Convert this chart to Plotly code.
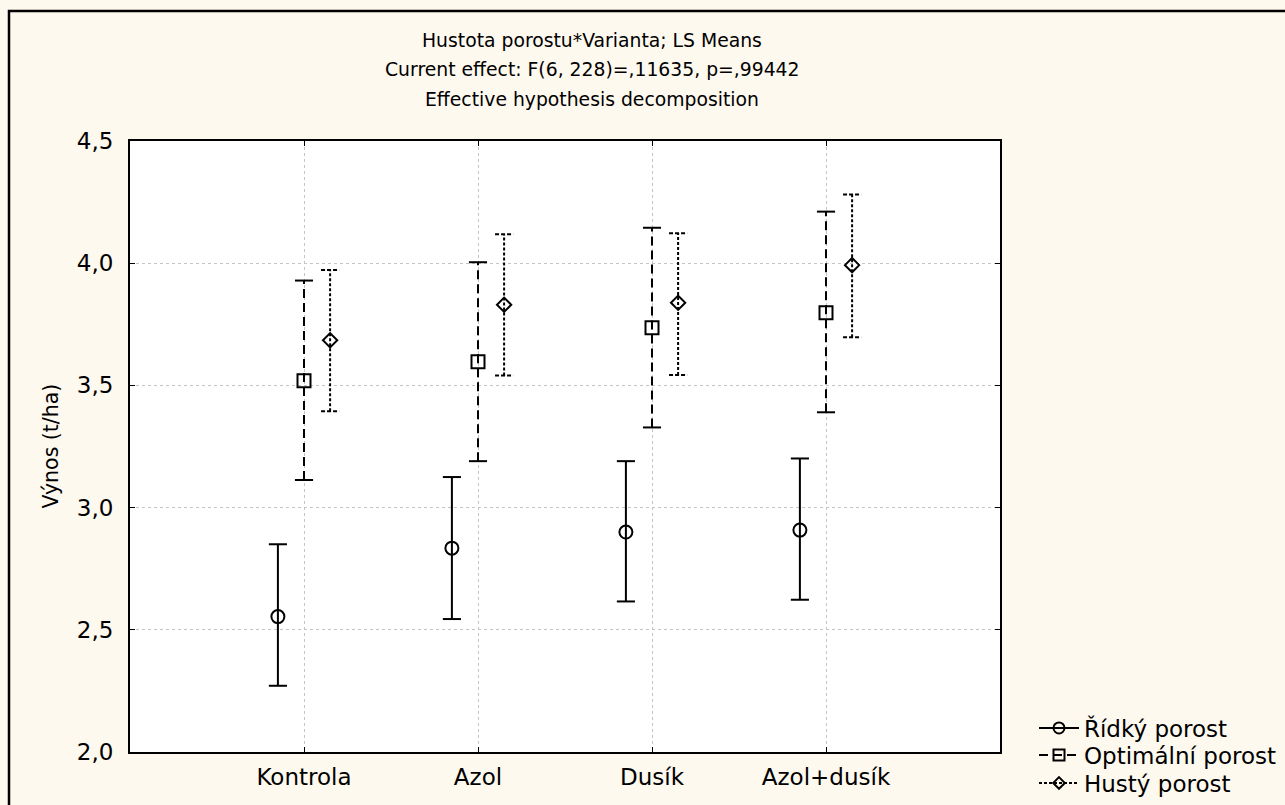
import plotly.graph_objects as go

# ---- data ----
categories = ["Kontrola", "Azol", "Dusík", "Azol+dusík"]
series_names = ["Řídký porost", "Optimální porost", "Hustý porost"]

ridky_mean = [2.554, 2.834, 2.900, 2.908]
ridky_lo = [2.271, 2.544, 2.616, 2.623]
ridky_hi = [2.850, 3.125, 3.190, 3.201]

opt_mean = [3.519, 3.597, 3.736, 3.797]
opt_lo = [3.113, 3.190, 3.328, 3.390]
opt_hi = [3.929, 4.004, 4.145, 4.211]

husty_mean = [3.685, 3.830, 3.838, 3.992]
husty_lo = [3.394, 3.541, 3.543, 3.697]
husty_hi = [3.972, 4.118, 4.123, 4.281]

y_ticks = [2.0, 2.5, 3.0, 3.5, 4.0, 4.5]
title_lines = [
    "Hustota porostu*Varianta; LS Means",
    "Current effect: F(6, 228)=,11635, p=,99442",
    "Effective hypothesis decomposition",
]

# ---- styling ----
FONT = "DejaVu Sans"
BG = "#FEF9EF"
W, H = 1285, 805
L, R, T, B = 130, 285, 141, 53
PW, PH = W - L - R, H - T - B

def px_to_paper_x(px):
    return (px - L) / PW

def px_to_paper_y(py):
    return (H - B - py) / PH

styles = [
    dict(offset=-0.15, dash="solid", cap_dash="solid", symbol="circle-open", size=13),
    dict(offset=0.0, dash="9px,5px", cap_dash="solid", symbol="square-open", size=13),
    dict(offset=0.15, dash="3px,2px", cap_dash="4px,2px", symbol="diamond-open", size=11),
]
legend_ids = ["legend", "legend2", "legend3"]
legend_centers_px = [728, 755, 783]
means = [ridky_mean, opt_mean, husty_mean]
los = [ridky_lo, opt_lo, husty_lo]
his = [ridky_hi, opt_hi, husty_hi]
cap_half = 0.052

fig = go.Figure()
xpos = list(range(1, len(categories) + 1))

for name, st, m, lo, hi, lid in zip(series_names, styles, means, los, his, legend_ids):
    xs = [x + st["offset"] for x in xpos]
    # vertical error bar lines
    vx, vy = [], []
    for x, a, b in zip(xs, lo, hi):
        vx += [x, x, None]
        vy += [a, b, None]
    fig.add_trace(go.Scatter(x=vx, y=vy, mode="lines", showlegend=False,
                             line=dict(color="black", width=2, dash=st["dash"]),
                             hoverinfo="skip"))
    # caps
    cx, cy = [], []
    for x, a, b in zip(xs, lo, hi):
        cx += [x - cap_half, x + cap_half, None, x - cap_half, x + cap_half, None]
        cy += [a, a, None, b, b, None]
    fig.add_trace(go.Scatter(x=cx, y=cy, mode="lines", showlegend=False,
                             line=dict(color="black", width=2, dash=st["cap_dash"]),
                             hoverinfo="skip"))
    # means
    fig.add_trace(go.Scatter(x=xs, y=m, mode="markers", showlegend=False,
                             marker=dict(symbol=st["symbol"], size=st["size"], color="black",
                                         line=dict(width=2, color="black")),
                             name=name))
    # legend entry
    fig.add_trace(go.Scatter(x=[None], y=[None], mode="lines+markers", name=name,
                             legend=lid,
                             line=dict(color="black", width=2, dash=st["dash"]),
                             marker=dict(symbol=st["symbol"], size=st["size"] - 2, color="black",
                                         line=dict(width=2, color="black"))))

annotations = []
for i, (txt, py) in enumerate(zip(title_lines, [40, 70, 99])):
    annotations.append(dict(text=txt, xref="paper", yref="paper",
                            x=px_to_paper_x(592), y=px_to_paper_y(py),
                            xanchor="center", yanchor="middle", showarrow=False,
                            font=dict(family=FONT, size=18.8, color="black")))
annotations.append(dict(text="Výnos (t/ha)", xref="paper", yref="paper",
                        x=px_to_paper_x(50), y=0.5, textangle=-90,
                        xanchor="center", yanchor="middle", showarrow=False,
                        font=dict(family=FONT, size=20.5, color="black")))

axis_common = dict(showline=True, linecolor="black", linewidth=2, mirror="ticks",
                   ticks="inside", ticklen=5, tickwidth=1, tickcolor="black",
                   showgrid=True, gridcolor="#c4c4c4", gridwidth=1, griddash="dot",
                   zeroline=False, automargin=False,
                   tickfont=dict(family=FONT, size=23, color="black"))

legend_layouts = {}
for lid, c in zip(legend_ids, legend_centers_px):
    legend_layouts[lid] = dict(x=px_to_paper_x(1034), y=px_to_paper_y(c - 21.5),
                               xanchor="left", yanchor="top",
                               bgcolor="rgba(0,0,0,0)", borderwidth=0,
                               font=dict(family=FONT, size=23, color="black"),
                               itemwidth=40)

fig.update_layout(
    width=W, height=H,
    margin=dict(l=L, r=R, t=T, b=B, pad=0, autoexpand=False),
    paper_bgcolor=BG, plot_bgcolor="white",
    separators=", ",
    font=dict(family=FONT, color="black"),
    xaxis=dict(range=[0, 5], tickvals=xpos, ticktext=categories,
               ticklabelstandoff=3, **axis_common),
    yaxis=dict(range=[2.0, 4.5], tickvals=y_ticks, tickformat=".1f",
               ticklabelstandoff=10, **axis_common),
    annotations=annotations,
    shapes=[dict(type="rect", xref="paper", yref="paper",
                 x0=px_to_paper_x(9), x1=px_to_paper_x(1400),
                 y0=px_to_paper_y(900), y1=px_to_paper_y(11),
                 line=dict(color="black", width=2.5), fillcolor="rgba(0,0,0,0)",
                 layer="above")],
    showlegend=True,
    **legend_layouts,
)

fig.write_html("out.html")
